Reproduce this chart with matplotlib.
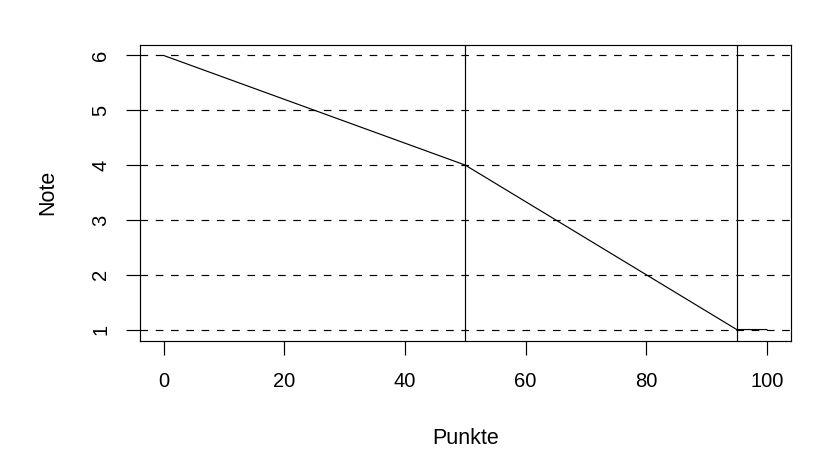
import matplotlib
matplotlib.use("Agg")
import matplotlib.pyplot as plt

plt.rcParams['font.family'] = ['Liberation Sans', 'DejaVu Sans']
plt.rcParams['lines.scale_dashes'] = False

# Punkte -> Note
punkte = [0, 50, 95, 100]
note = [6, 4, 1, 1]
vlinien = [50, 95]
noten_stufen = [1, 2, 3, 4, 5, 6]
xticks = [0, 20, 40, 60, 80, 100]

fig = plt.figure(figsize=(8.36, 4.75), dpi=100)
ax = fig.add_axes([139.5 / 836, 1 - 340.5 / 475, (791 - 139.5) / 836, (340.5 - 44.5) / 475])

for n in noten_stufen:
    ax.axhline(n, color='black', lw=0.85, ls=(0, (5.5, 5.5)))
for v in vlinien:
    ax.axvline(v, color='black', lw=0.85)
ax.plot(punkte, note, color='black', lw=0.85)

ax.set_xlim(-4, 104)
ax.set_ylim(0.8, 6.2)
ax.set_xticks(xticks)
ax.set_yticks(noten_stufen)
ax.tick_params(length=10, width=0.85, labelsize=14.5)
ax.tick_params(axis='x', pad=13)
ax.tick_params(axis='y', pad=11, labelrotation=90)
for lbl in ax.get_yticklabels():
    lbl.set_va('center')
for s in ax.spines.values():
    s.set_linewidth(0.85)

ax.set_xlabel('Punkte', fontsize=15.5, labelpad=26)
ax.set_ylabel('Note', fontsize=15.5, labelpad=23.5)

fig.savefig('out.png', dpi=100)
